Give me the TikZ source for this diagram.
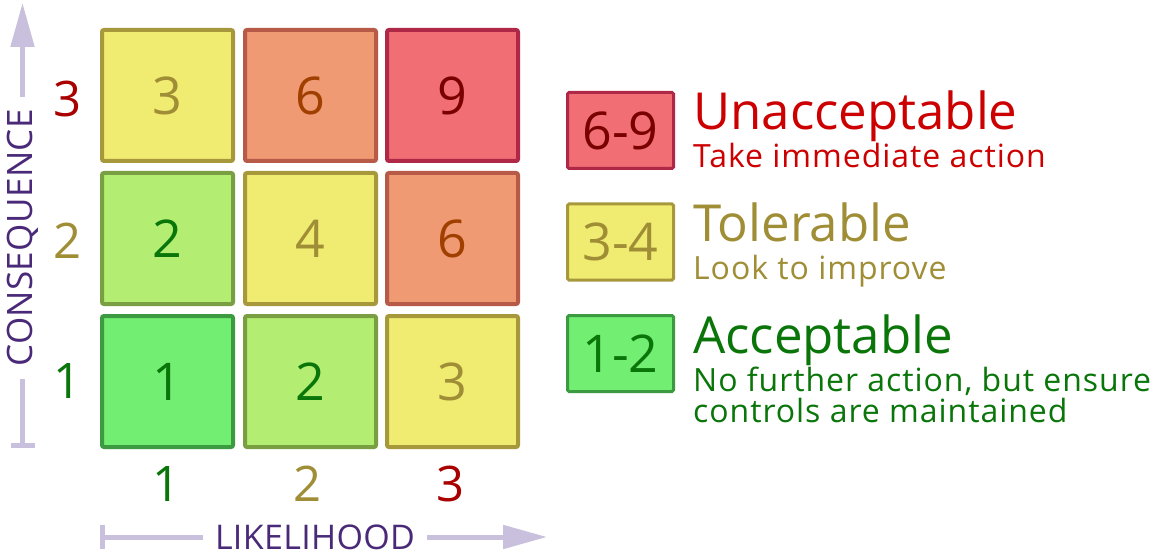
\documentclass[tikz,border=0pt]{standalone}
\usepackage{fontspec}
\setmainfont{Open Sans}
\newfontfamily\legsubfont[LetterSpace=3]{Open Sans}
\newfontfamily\axisfont[LetterSpace=1]{Open Sans}
\usetikzlibrary{arrows.meta}
\definecolor{gfill}{HTML}{72EE72}
\definecolor{gline}{HTML}{3C9A40}
\definecolor{lgfill}{HTML}{B3EE72}
\definecolor{lgline}{HTML}{7A9E42}
\definecolor{yfill}{HTML}{F0EC72}
\definecolor{yline}{HTML}{A8983C}
\definecolor{ofill}{HTML}{F09A74}
\definecolor{oline}{HTML}{B85A48}
\definecolor{rfill}{HTML}{F06E74}
\definecolor{rline}{HTML}{B02848}
\definecolor{gtext}{HTML}{0A760A}
\definecolor{ytext}{HTML}{A08E36}
\definecolor{otext}{HTML}{A04000}
\definecolor{rtext}{HTML}{7A0000}
\definecolor{redlab}{HTML}{A80000}
\definecolor{redleg}{HTML}{CC0000}
\definecolor{purp}{HTML}{4A2A78}
\definecolor{arrowc}{HTML}{C8C0DC}
\begin{document}
\begin{tikzpicture}[x=1pt,y=-1pt,
  cell/.style={draw, line width=4pt, rounded corners=2pt, minimum width=131pt, minimum height=131pt, inner sep=0pt, font=\fontsize{52}{52}\selectfont},
  legbox/.style={draw, line width=3pt, rounded corners=1.5pt, minimum width=106pt, minimum height=76pt, inner sep=0pt, font=\fontsize{52}{52}\selectfont},
  gcell/.style={cell, fill=gfill, draw=gline, text=gtext},
  lgcell/.style={cell, fill=lgfill, draw=lgline, text=gtext},
  ycell/.style={cell, fill=yfill, draw=yline, text=ytext},
  ocell/.style={cell, fill=ofill, draw=oline, text=otext},
  rcell/.style={cell, fill=rfill, draw=rline, text=rtext},
  axnum/.style={inner sep=0pt, font=\fontsize{49}{49}\selectfont},
  legtitle/.style={anchor=base west, inner sep=0pt, font=\fontsize{51}{51}\selectfont},
  legsub/.style={anchor=base west, inner sep=0pt, font=\legsubfont\fontsize{32}{32}\selectfont},
  axtext/.style={text=purp, inner ysep=0pt, inner xsep=12pt},
  axline/.style={draw=arrowc, line width=5pt}
]
\useasboundingbox[fill=white] (0,0) rectangle (1164,556);

% grid cells
\node[ycell]  (c13) at (167.5,95.5)  {3};
\node[ocell]  (c23) at (310.5,95.5)  {6};
\node[rcell]  (c33) at (452.5,95.5)  {9};
\node[lgcell] (c12) at (167.5,238.5) {2};
\node[ycell]  (c22) at (310.5,238.5) {4};
\node[ocell]  (c32) at (452.5,238.5) {6};
\node[gcell]  (c11) at (167.5,381.5) {1};
\node[lgcell] (c21) at (310.5,381.5) {2};
\node[ycell]  (c31) at (452.5,381.5) {3};

% row labels
\node[axnum, text=redlab] (r3) at (68,99)  {3};
\node[axnum, text=ytext]  (r2) at (68,241) {2};
\node[axnum, text=gtext]  (r1) at (68,381) {1};

% column labels
\node[axnum, text=gtext]  (k1) at (167,484) {1};
\node[axnum, text=ytext]  (k2) at (308,484) {2};
\node[axnum, text=redlab] (k3) at (451,484) {3};

% vertical axis
\coordinate (vbar) at (22.5,448);
\coordinate (vtip) at (22.5,3);
\node[axtext, rotate=90, font=\axisfont\fontsize{35}{35}\selectfont] (cons) at (22.5,238) {CONSEQUENCE};
\draw[axline, {Bar[width=24pt]}-] (vbar) -- (cons.west);
\draw[axline, -{Triangle[length=44pt,width=23pt]}] (cons.east) -- (vtip);

% horizontal axis
\coordinate (hbar) at (100,537);
\coordinate (htip) at (547,537);
\node[axtext, font=\axisfont\fontsize{34}{34}\selectfont] (like) at (315,537) {LIKELIHOOD};
\draw[axline, {Bar[width=24pt]}-] (hbar) -- (like.west);
\draw[axline, -{Triangle[length=44pt,width=23pt]}] (like.east) -- (htip);

% legend
\node[legbox, fill=rfill, draw=rline, text=rtext] (l69) at (620.5,130.5) {6-9};
\node[legbox, fill=yfill, draw=yline, text=ytext] (l34) at (620.5,242) {3-4};
\node[legbox, fill=gfill, draw=gline, text=gtext] (l12) at (620.5,353.5) {1-2};

\node[legtitle, text=redleg] (t69) at (693,130) {Unacceptable};
\node[legsub, text=redleg] (s69) at (693,168) {Take immediate action};
\node[legtitle, text=ytext] (t34) at (693,241) {Tolerable};
\node[legsub, text=ytext] (s34) at (693,279) {Look to improve};
\node[legtitle, text=gtext] (t12) at (693,353) {Acceptable};
\node[legsub, text=gtext] (s12a) at (693,391) {No further action, but ensure};
\node[legsub, text=gtext] (s12b) at (693,422) {controls are maintained};
\end{tikzpicture}
\end{document}
